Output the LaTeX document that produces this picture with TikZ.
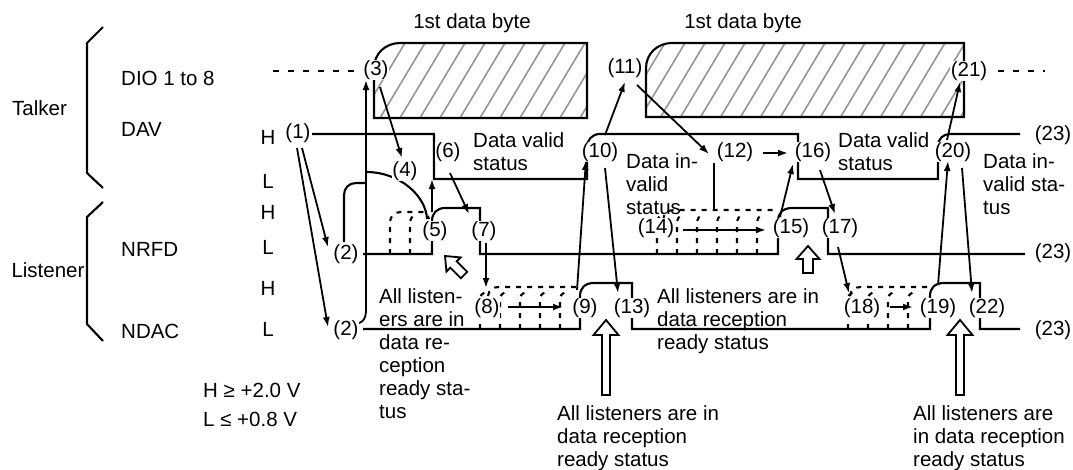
\documentclass[tikz,border=0pt]{standalone}
\usepackage{fontspec}
\setmainfont{Liberation Sans}
\usetikzlibrary{arrows.meta}
\definecolor{hatchgray}{RGB}{150,150,150}
\begin{document}
\begin{tikzpicture}[x=1pt,y=-1pt,
  every node/.style={font=\fontsize{20.5pt}{23pt}\selectfont, inner sep=0pt},
  sig/.style={line width=2.1pt},
  dsh/.style={line width=2.1pt, dash pattern=on 5pt off 6pt},
  dio/.style={line width=2.1pt, dash pattern=on 6pt off 9pt},
  arr/.style={line width=1.8pt, -{Latex[length=10pt,width=7pt]}},
  lbl/.style={fill=white, inner sep=0.6pt},
  hatch/.style={line width=1.6pt, draw=hatchgray},
  hollow/.style={line width=1.8pt, fill=white, line join=miter},
  txt/.style={align=left, anchor=north west},
]
\useasboundingbox (0,0) rectangle (1073,469);

% braces
\draw[sig] (103,27) -- (87,43) -- (87,173) -- (103,188);
\draw[sig] (103,202) -- (87,217) -- (87,324) -- (103,341);

% left texts
\node (talker) at (39.5,108) {Talker};
\node (listener) at (48,270) {Listener};
\node[anchor=west] (dio) at (121,78) {DIO 1 to 8};
\node[anchor=west] (dav) at (121,129.5) {DAV};
\node[anchor=west] (nrfd) at (121,249.5) {NRFD};
\node[anchor=west] (ndac) at (121,331) {NDAC};
\node (h1) at (268,137) {H};
\node (l1) at (268,181) {L};
\node (h2) at (268,212.5) {H};
\node (l2) at (268,247.5) {L};
\node (h3) at (268,288.5) {H};
\node (l3) at (268,329.5) {L};
\node[anchor=west] (vh) at (203,390) {H ≥ +2.0 V};
\node[anchor=west] (vl) at (203,419.5) {L ≤ +0.8 V};

\node[anchor=base] (byte1) at (472,28) {1st data byte};
\node[anchor=base] (byte2) at (743,28) {1st data byte};

% data boxes with hatch
\begin{scope}
  \clip (374,118) -- (374,68) .. controls (374,53.6) and (385.6,43) .. (400,43) -- (587,43) -- (587,118) -- cycle;
  \foreach \x in {300,320,...,620} \draw[hatch] (\x,118) -- (\x+45,43);
\end{scope}
\draw[sig] (374,118) -- (374,68) .. controls (374,53.6) and (385.6,43) .. (400,43) -- (587,43) -- (587,118) -- cycle;
\begin{scope}
  \clip (646,117) -- (646,68) .. controls (646,53.6) and (657.6,43) .. (672,43) -- (964,43) -- (964,117) -- cycle;
  \foreach \x in {580,600,...,980} \draw[hatch] (\x,118) -- (\x+45,43);
\end{scope}
\draw[sig] (646,117) -- (646,68) .. controls (646,53.6) and (657.6,43) .. (672,43) -- (964,43) -- (964,117) -- cycle;
\draw[dio] (273,71) -- (362,71);
\draw[dio] (998,71) -- (1045,71);

% DAV
\draw[sig] (312,134) -- (434,134) -- (434,179) -- (587,179) -- (587,147)
  .. controls (587,140) and (592,134) .. (600,134) -- (798,134) -- (798,179) -- (938,179) -- (938,146)
  .. controls (938,139) and (943,134) .. (950,134) -- (1020,134);

% NRFD
\draw[sig] (363,254) -- (432,254) -- (432,221) .. controls (432,213) and (437,208) .. (445,208)
  -- (480,208) -- (480,254) -- (778,254) -- (778,221) .. controls (778,213) and (783,208) .. (792,208)
  -- (828,208) -- (828,254) -- (1025,254);
% NRFD dashed (5)
\draw[dsh] (390,254) -- (390,223) .. controls (390,216) and (394,212) .. (401,212) -- (422,212) .. controls (425,212) and (428,215) .. (429,219);
\draw[dsh] (410,254) -- (410,224) .. controls (410,219) and (412,216) .. (415,215);
% NRFD dashed (14)
\draw[dsh] (663,220) .. controls (664,214) and (667,210) .. (674,210) -- (776,210);
\foreach \x in {657,677,697,717,737,757}
  \draw[dsh] (\x,254) -- (\x,224) .. controls (\x,219) and (\x+2,216) .. (\x+5,215);

% NDAC
\draw[sig] (363,329) -- (580,329) -- (580,296) .. controls (580,288) and (585,283) .. (594,283)
  -- (632,283) -- (632,329) -- (930,329) -- (930,296) .. controls (930,288) and (935,283) .. (944,283)
  -- (980,283) -- (980,329) -- (1020,329);
% NDAC dashed (8)
\draw[dsh] (488,296) .. controls (489,290) and (492,287) .. (499,287) -- (577,287);
\foreach \x in {480,500,520,540,560}
  \draw[dsh] (\x,329) -- (\x,300) .. controls (\x,296) and (\x+2,293) .. (\x+5,292);
% NDAC dashed (18)
\draw[dsh] (850,296) .. controls (851,290) and (854,287) .. (861,287) -- (928,287);
\foreach \x in {848,868,888,908}
  \draw[dsh] (\x,329) -- (\x,300) .. controls (\x,296) and (\x+2,293) .. (\x+5,292);

% merge of the two (2) to (3), and arc through (4)
\draw[sig] (344,242) -- (344,195) .. controls (344,188) and (349,183) .. (356,183) -- (366,183);
\draw[arr] (352,324) .. controls (362,324) and (366,320) .. (366,310) -- (366,80);
\draw[sig] (366,172) .. controls (400,172) and (426,196) .. (427,219);
\draw[sig] (714,163) -- (714,210);

% step labels
\node[lbl] (s1) at (298,133) {(1)};
\node[lbl] (s2a) at (346,254) {(2)};
\node[lbl] (s2b) at (346,330) {(2)};
\node[lbl] (s3) at (376,70) {(3)};
\node[lbl] (s4) at (405,171) {(4)};
\node[lbl] (s5) at (435,231) {(5)};
\node[lbl] (s6) at (448,152) {(6)};
\node[lbl] (s7) at (484,231) {(7)};
\node[lbl] (s8) at (487,308) {(8)};
\node[lbl] (s9) at (585,308) {(9)};
\node[lbl] (s10) at (600,152) {(10)};
\node[lbl] (s11) at (625,68) {(11)};
\node[lbl] (s12) at (735,152) {(12)};
\node[lbl] (s13) at (632,308) {(13)};
\node[lbl] (s14) at (656,228) {(14)};
\node[lbl] (s15) at (791,228) {(15)};
\node[lbl] (s16) at (813,152) {(16)};
\node[lbl] (s17) at (840,228) {(17)};
\node[lbl] (s18) at (862,308) {(18)};
\node[lbl] (s19) at (938,308) {(19)};
\node[lbl] (s20) at (953,152) {(20)};
\node[lbl] (s21) at (969,71) {(21)};
\node[lbl] (s22) at (987,308) {(22)};
\node[lbl] (s23a) at (1053,135) {(23)};
\node[lbl] (s23b) at (1053,253) {(23)};
\node[lbl] (s23c) at (1053,330) {(23)};

% status texts
\node[txt] (dv1) at (473,132) {Data valid\\status};
\node[txt] (di1) at (626,153) {Data in-\\valid\\status};
\node[txt] (dv2) at (838,132) {Data valid\\status};
\node[txt] (di2) at (983,153) {Data in-\\valid sta-\\tus};
\node[txt] (al1) at (379,288) {All listen-\\ers are in\\data re-\\ception\\ready sta-\\tus};
\node[txt] (al2) at (657,288) {All listeners are in\\data reception\\ready status};
\node[txt] (al3) at (557,405) {All listeners are in\\data reception\\ready status};
\node[txt] (al4) at (913,405) {All listeners are\\in data reception\\ready status};

% arrows
\draw[arr] (302,148) -- (328,247);
\draw[arr] (297,148) -- (328,327);
\draw[arr] (380,87) -- (402,158);
\draw[arr] (432,212) -- (432,179);
\draw[arr] (450,173) -- (469,214);
\draw[arr] (486,243) -- (486,288);
\draw[arr] (508,307) -- (563,307);
\draw[arr] (577,290) -- (586,160);
\draw[arr] (605,135) -- (625,82);
\draw[arr] (605,168) -- (618,293);
\draw[arr] (637,85) -- (709,154);
\draw[arr] (763,153) -- (788,153);
\draw[arr] (683,230) -- (766,230);
\draw[arr] (780,217) -- (793,164);
\draw[arr] (820,170) -- (835,214);
\draw[arr] (838,247) -- (849,293);
\draw[arr] (890,307) -- (913,307);
\draw[arr] (938,285) -- (948,161);
\draw[arr] (947,140) -- (960,82);
\draw[arr] (962,168) -- (972,293);

% hollow arrows
\begin{scope}[shift={(445,256)}, rotate=45]
  \draw[hollow] (0,0) -- (10,12) -- (4.5,12) -- (4.5,27) -- (-4.5,27) -- (-4.5,12) -- (-10,12) -- cycle;
\end{scope}
\draw[hollow] (808,246) -- (819.5,259) -- (813,259) -- (813,273) -- (803,273) -- (803,259) -- (796.5,259) -- cycle;
\draw[hollow] (606,320) -- (618.5,335) -- (610,335) -- (610,395) -- (602,395) -- (602,335) -- (593.5,335) -- cycle;
\draw[hollow] (960,320) -- (972.5,335) -- (964,335) -- (964,395) -- (956,395) -- (956,335) -- (947.5,335) -- cycle;
\end{tikzpicture}
\end{document}
